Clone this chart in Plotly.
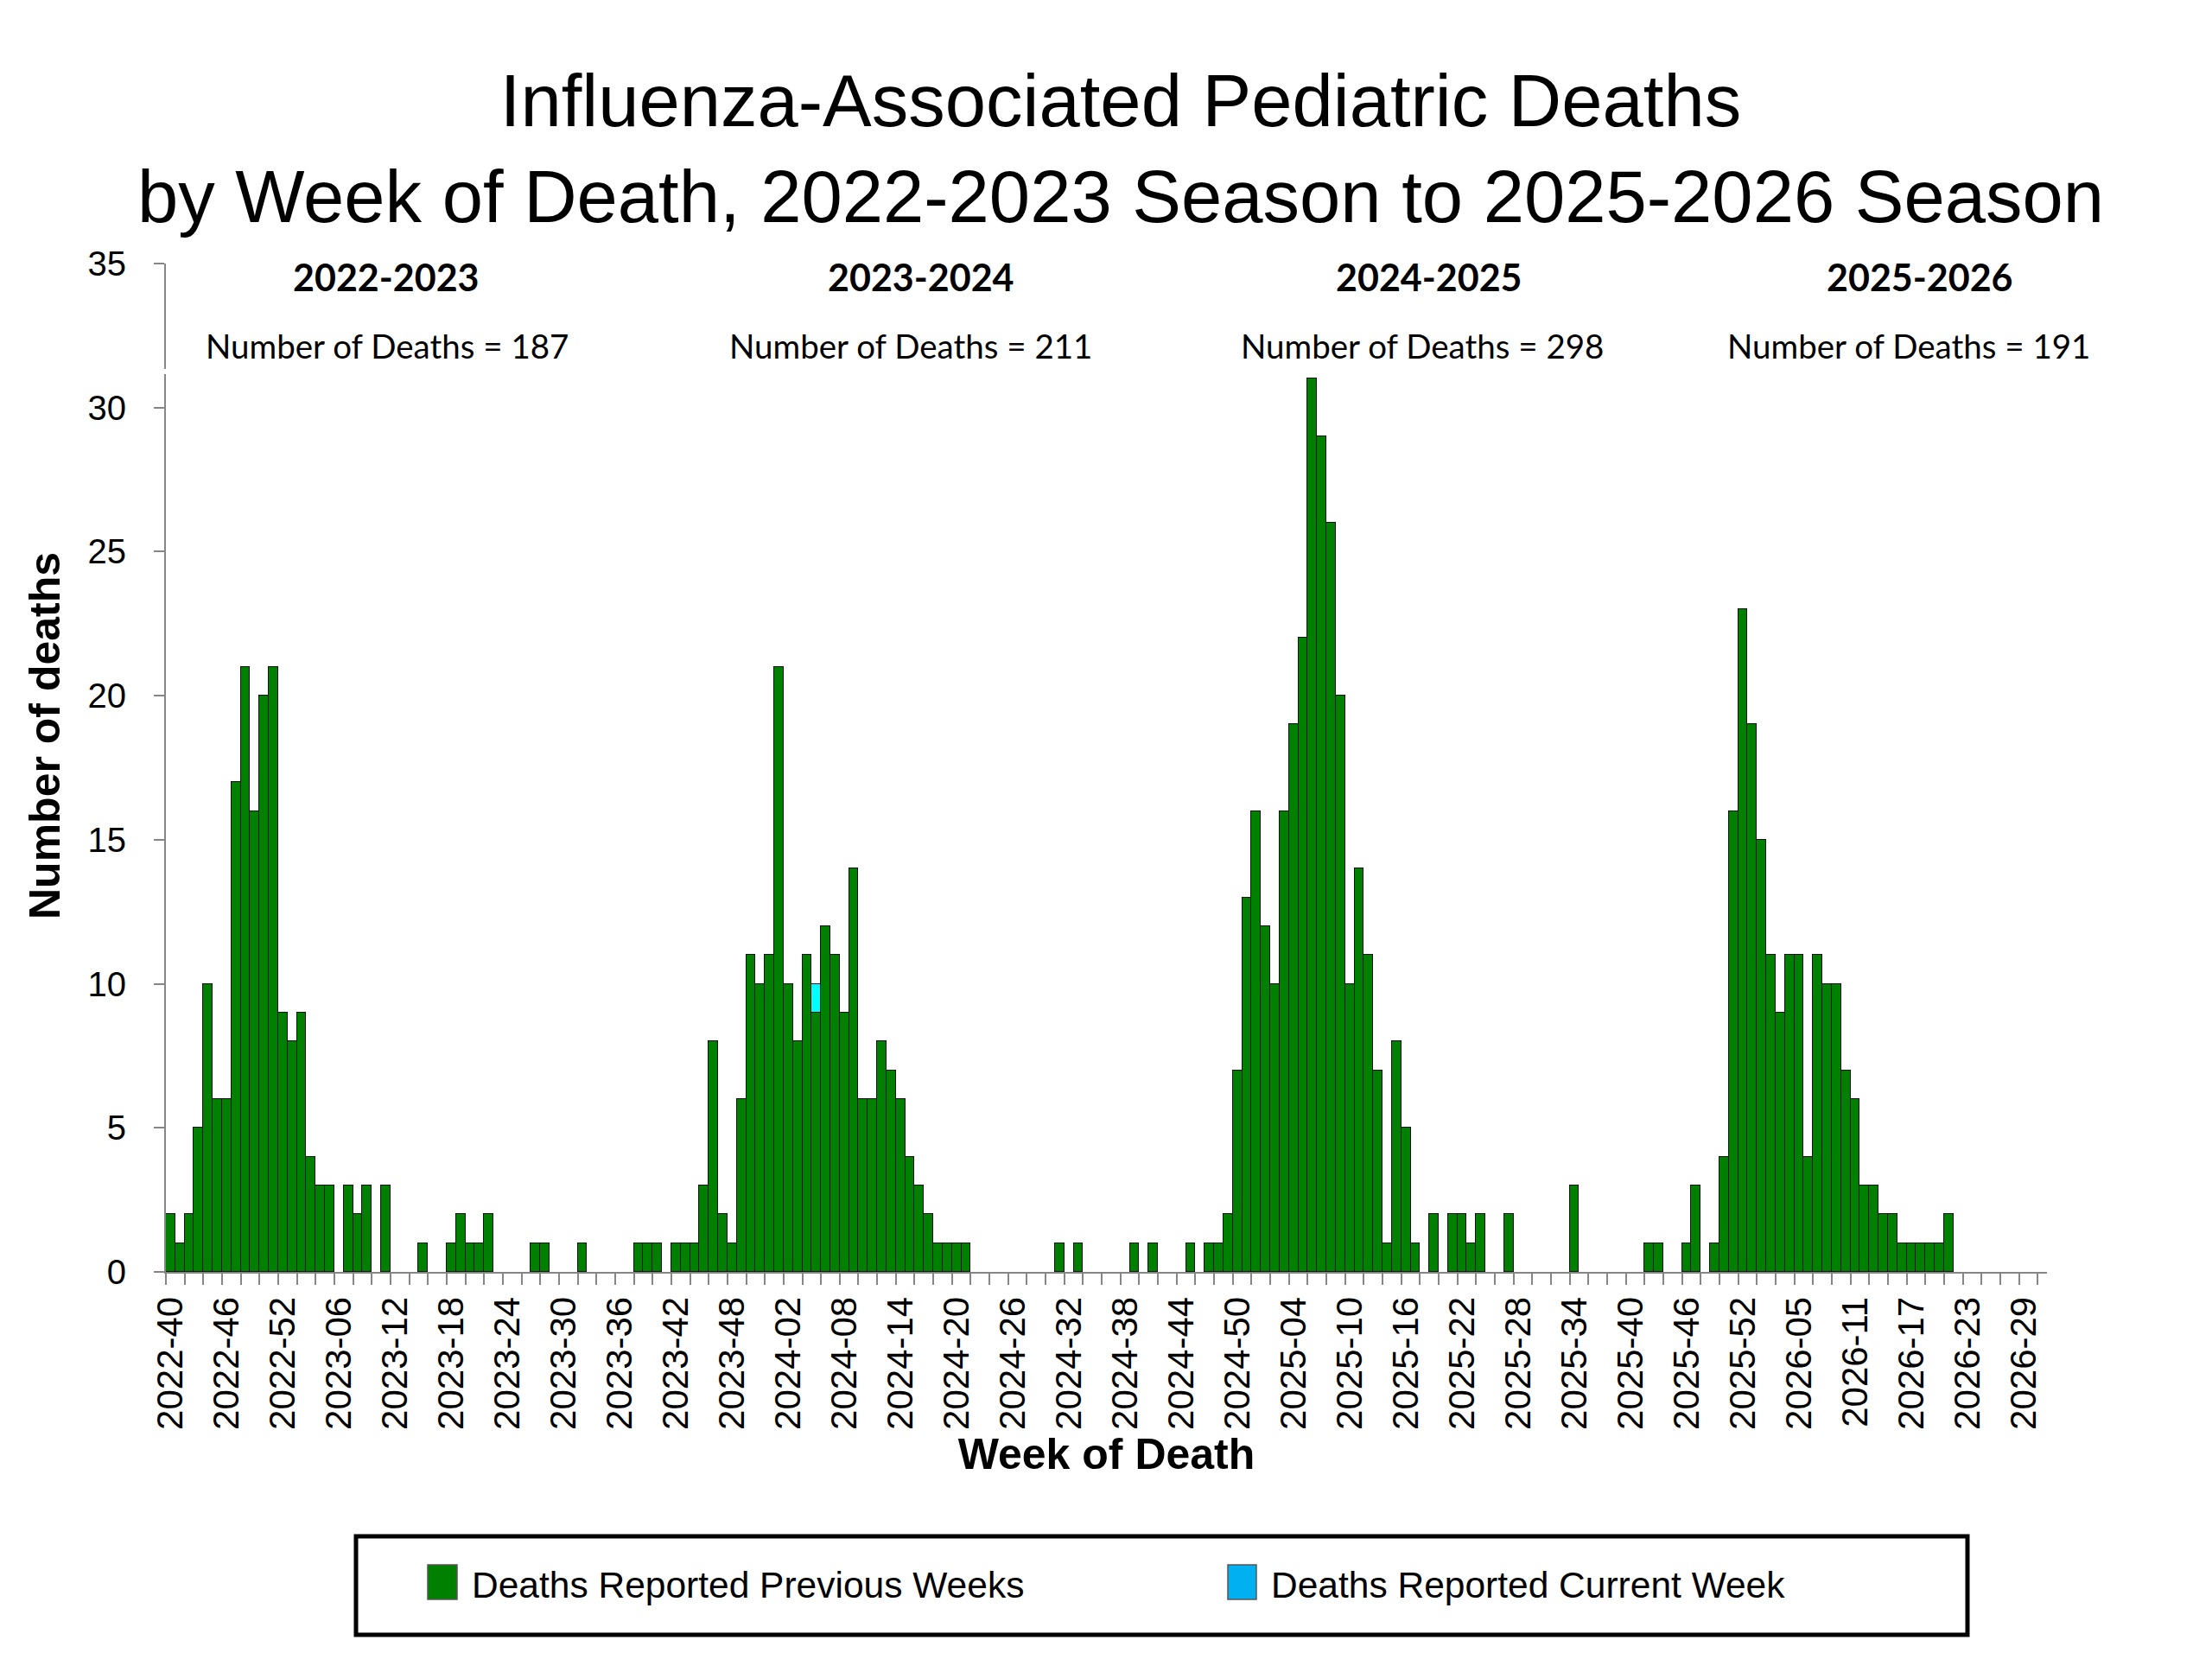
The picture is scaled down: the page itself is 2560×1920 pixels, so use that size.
import plotly.graph_objects as go

# ---------------- data ----------------
axis_start = (2022, 40)          # first week shown on the axis
axis_end = (2026, 31)            # last week shown on the axis
mmwr_weeks_in_year = {2022: 52, 2023: 52, 2024: 52, 2025: 53, 2026: 52}

season_labels = ["2022-2023", "2023-2024", "2024-2025", "2025-2026"]
season_totals = [187, 211, 298, 191]

# deaths reported previous weeks, by week of death (season starts week 40)
deaths_2022_23 = [2, 1, 2, 5, 10, 6, 6, 17, 21, 16, 20, 21, 9,
                  8, 9, 4, 3, 3, 0, 3, 2, 3, 0,
                  3, 0, 0, 0, 1, 0, 0, 1, 2, 1,
                  1, 2, 0, 0, 0, 0, 1, 1, 0, 0,
                  0, 1, 0, 0, 0, 0, 0, 1, 1]
deaths_2023_24 = [1, 0, 1, 1, 1, 3, 8, 2, 1, 6, 11, 10, 11,
                  21, 10, 8, 11, 9, 12, 11, 9, 14, 6,
                  6, 8, 7, 6, 4, 3, 2, 1, 1, 1,
                  1, 0, 0, 0, 0, 0, 0, 0, 0, 0,
                  1, 0, 1, 0, 0, 0, 0, 0, 1]
deaths_2024_25 = [0, 1, 0, 0, 0, 1, 0, 1, 1, 2, 7, 13, 16,
                  12, 10, 16, 19, 22, 31, 29, 26, 20, 10,
                  14, 11, 7, 1, 8, 5, 1, 0, 2, 0,
                  2, 2, 1, 2, 0, 0, 2, 0, 0, 0,
                  0, 0, 0, 3, 0, 0, 0, 0, 0]
deaths_2025_26 = [0, 0, 1, 1, 0, 0, 1, 3, 0, 1, 4, 16, 23, 19,
                  15, 11, 9, 11, 11, 4, 11, 10, 10, 7,
                  6, 3, 3, 2, 2, 1, 1, 1, 1, 1,
                  2, 0, 0, 0, 0, 0, 0, 0, 0, 0, 0]

# deaths reported in the current week
current_week_labels = ["2024-05"]
current_week_values = [1]

# ---------------- week categories ----------------
weeks = []
y, w = axis_start
while (y, w) <= axis_end:
    weeks.append(f"{y}-{w:02d}")
    w += 1
    if w > mmwr_weeks_in_year[y]:
        y, w = y + 1, 1

previous = deaths_2022_23 + deaths_2023_24 + deaths_2024_25 + deaths_2025_26
current = [0] * len(weeks)
for lab, val in zip(current_week_labels, current_week_values):
    current[weeks.index(lab)] = val

pos = list(range(len(weeks)))
prev_plot = [v if v else None for v in previous]
curr_plot = [v if v else None for v in current]

# ---------------- layout geometry (page pixel coordinates) ----------------
PAGE_W, PAGE_H = 2560, 1920
OFF = 8                                  # default body margin of the html page
FW, FH = PAGE_W - OFF, PAGE_H - OFF      # figure size
PL, PR, PT, PB = 192, 2369, 305, 1472    # plot area edges on the page
PW, PH = PR - PL, PB - PT


def px_x(px):
    return (px - PL) / PW


def px_y(py):
    return (PB - py) / PH


AX = "#868686"
GREEN = "#008000"
CYAN = "#00FFFF"
LEG_BLUE = "#00B0F0"
ARIAL = "Liberation Sans, Arial, sans-serif"
CAL = "Lato, Carlito, Calibri, sans-serif"

fig = go.Figure()
fig.add_trace(go.Bar(
    x=pos, y=prev_plot, customdata=weeks, name="Deaths Reported Previous Weeks",
    marker=dict(color=GREEN, line=dict(color="#111111", width=1.3)),
    hovertemplate="%{customdata}: %{y}<extra>Previous Weeks</extra>",
    showlegend=False,
))
fig.add_trace(go.Bar(
    x=pos, y=curr_plot, customdata=weeks, name="Deaths Reported Current Week",
    marker=dict(color=CYAN, line=dict(color="#111111", width=1.3)),
    hovertemplate="%{customdata}: %{y}<extra>Current Week</extra>",
    showlegend=False,
))

annotations = []
season_cx = [447, 1066, 1654, 2222]
count_cx = [448, 1054, 1646, 2209]
for cx, lab in zip(season_cx, season_labels):
    annotations.append(dict(x=px_x(cx), y=px_y(320), xref="paper", yref="paper",
                            text=f"<b>{lab}</b>", showarrow=False,
                            xanchor="center", yanchor="middle",
                            font=dict(family=CAL, size=43, color="black")))
for cx, tot in zip(count_cx, season_totals):
    annotations.append(dict(x=px_x(cx), y=px_y(400), xref="paper", yref="paper",
                            text=f"Number of Deaths = {tot}", showarrow=False,
                            xanchor="center", yanchor="middle",
                            font=dict(family=CAL, size=38.5, color="black")))
# y-axis title
annotations.append(dict(x=px_x(52), y=px_y(852), xref="paper", yref="paper",
                        text="<b>Number of deaths</b>", textangle=-90, showarrow=False,
                        xanchor="center", yanchor="middle",
                        font=dict(family=ARIAL, size=50, color="black")))
# legend texts
for lx, txt in [(544, "Deaths Reported Previous Weeks"), (1469, "Deaths Reported Current Week")]:
    annotations.append(dict(x=px_x(lx), y=px_y(1834), xref="paper", yref="paper",
                            text=txt, showarrow=False, xanchor="left", yanchor="middle",
                            font=dict(family=ARIAL, size=42.5, color="black")))

shapes = [
    # legend frame
    dict(type="rect", xref="paper", yref="paper", x0=px_x(412), x1=px_x(2277),
         y0=px_y(1778), y1=px_y(1892), line=dict(color="black", width=5), fillcolor="white"),
    dict(type="rect", xref="paper", yref="paper", x0=px_x(495), x1=px_x(529),
         y0=px_y(1811), y1=px_y(1851), line=dict(color="#555555", width=1.5), fillcolor=GREEN),
    dict(type="rect", xref="paper", yref="paper", x0=px_x(1421), x1=px_x(1454),
         y0=px_y(1811), y1=px_y(1851), line=dict(color="#555555", width=1.5), fillcolor=LEG_BLUE),
    # small white gap over the y-axis line (text box overlap)
    dict(type="rect", xref="paper", yref="paper", x0=px_x(189), x1=px_x(195),
         y0=px_y(433), y1=px_y(427), line=dict(width=0), fillcolor="white", layer="above"),
]

fig.update_layout(
    width=FW, height=FH,
    margin=dict(l=PL - OFF, r=PAGE_W - PR, t=PT - OFF, b=PAGE_H - PB, autoexpand=False),
    paper_bgcolor="white", plot_bgcolor="white",
    barmode="stack", bargap=0,
    title=dict(text="Influenza-Associated Pediatric Deaths<br>by Week of Death, 2022-2023 Season to 2025-2026 Season",
               x=(1297 - OFF) / FW, xref="container", xanchor="center",
               y=1 - (146 - OFF) / FH, yref="container", yanchor="top",
               font=dict(family=ARIAL, size=85, color="black")),
    font=dict(family=ARIAL, color="black"),
    annotations=annotations,
    shapes=shapes,
    showlegend=False,
)
fig.update_xaxes(
    type="linear", range=[-0.5, len(weeks) - 0.5],
    tickmode="array", tickvals=pos[::6], ticktext=weeks[::6],
    tickangle=-90, ticks="", ticklabelstandoff=10,
    tickfont=dict(family=ARIAL, size=42, color="black"),
    showline=True, linecolor=AX, linewidth=2, showgrid=False, zeroline=False,
    minor=dict(ticks="outside", ticklen=13, tickwidth=2, tickcolor=AX,
               tickmode="linear", tick0=-0.5, dtick=2, showgrid=False),
    title=dict(text="<b>Week of Death</b>", font=dict(family=ARIAL, size=50, color="black"), standoff=8),
    automargin=False,
)
fig.update_yaxes(
    range=[0, 35], tickmode="linear", tick0=0, dtick=5,
    ticks="outside", ticklen=12, tickwidth=2, tickcolor=AX,
    tickfont=dict(family=ARIAL, size=40, color="black"), ticklabelstandoff=24,
    showline=True, linecolor=AX, linewidth=2, showgrid=False, zeroline=False,
    automargin=False,
)

fig.write_html("out.html")
